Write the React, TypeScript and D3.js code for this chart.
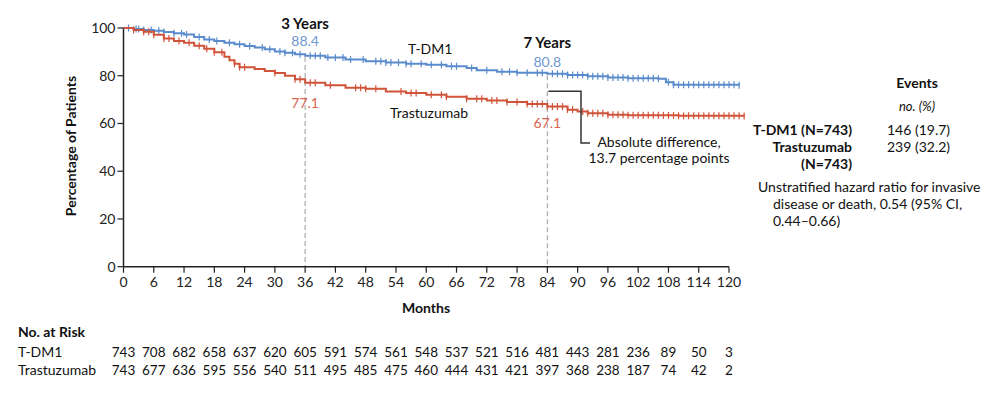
import * as d3 from 'd3';

// Kaplan-Meier steps (month, % free of invasive disease)
const tdm1Months = [0, 2, 4, 6, 8, 10, 12, 14, 16, 18, 20, 22, 24, 26, 28, 30, 32, 34, 36, 40, 44, 48, 52, 56, 60, 64, 68, 70, 74, 78, 84, 88, 92, 96, 100, 106, 107.5, 109, 122];
const tdm1Values = [100, 99.6, 99.2, 98.8, 98.3, 97.8, 97.3, 96.2, 95.2, 94.6, 93.8, 93.2, 92.5, 91.8, 91.1, 90.2, 89.6, 89.0, 88.4, 87.6, 86.8, 86.1, 85.5, 85.0, 84.6, 84.0, 83.2, 82.3, 81.7, 81.3, 80.8, 80.3, 79.8, 79.3, 79.0, 78.7, 77.3, 76.2, 76.0];
const trasMonths = [0, 2, 4, 6, 8, 10, 12, 14, 16, 18, 20, 21, 22, 23, 26, 28, 30, 32, 34, 36, 40, 44, 48, 52, 56, 60, 64, 68, 72, 76, 80, 84, 88, 90, 92, 96, 100, 110, 123];
const trasValues = [100, 99.2, 98.4, 97.2, 95.6, 94.6, 93.8, 92.6, 91.3, 89.8, 88.0, 86.5, 85.0, 83.6, 82.8, 82.0, 81.2, 80.0, 78.5, 77.1, 76.0, 75.0, 74.6, 73.4, 72.8, 72.0, 71.2, 70.4, 69.6, 69.0, 68.2, 67.1, 65.8, 65.0, 64.3, 63.7, 63.4, 63.2, 63.1];

// censored observations (months)
const tdm1Censor = [1, 2.5, 3, 4, 5.5, 7, 8, 10, 11.5, 12.5, 15, 17, 18.5, 21, 23, 25, 27.5, 29, 31, 32, 33.5, 35, 37, 38, 39, 40.5, 42, 43.5, 45, 47.5, 50, 51, 52, 53, 54.5, 56, 57, 59, 61, 63, 65, 66, 69, 72, 75, 76.5, 78, 80, 82, 83, 85, 86, 87, 88, 89, 90, 91, 92, 93, 94, 95, 96, 97, 98, 99, 100, 101, 102, 103, 104, 105, 106, 108, 109, 110, 111, 112, 113, 114, 115, 116, 117, 118, 119, 120, 121, 122];
const trasCensor = [2, 4, 5, 6, 8, 9, 11, 13, 15, 16.5, 18, 19.5, 22, 23, 24, 30, 34, 35, 37, 38, 41, 46, 47, 48, 50, 55, 57, 58, 61, 63, 64, 68, 70, 71, 73, 74, 76, 78, 80, 81, 82, 83, 84, 85, 86, 87, 88, 89, 91, 92, 93, 94, 95, 96, 97, 98, 99, 100, 101, 102, 103, 104, 105, 106, 107, 108, 109, 110, 111, 112, 113, 114, 115, 116, 117, 118, 119, 120, 121, 122, 123];

const xTicks = d3.range(0, 121, 6);
const yTicks = [0, 20, 40, 60, 80, 100];
const riskTdm1 = [743, 708, 682, 658, 637, 620, 605, 591, 574, 561, 548, 537, 521, 516, 481, 443, 281, 236, 89, 50, 3];
const riskTras = [743, 677, 636, 595, 556, 540, 511, 495, 485, 475, 460, 444, 431, 421, 397, 368, 238, 187, 74, 42, 2];

const BLUE = '#5a8bcc';
const RED = '#d1533a';
const FONT = 'Lato, "Open Sans", sans-serif';

export default function App() {
  const x = d3.scaleLinear().domain([0, 120]).range([123.5, 729]);
  const y = d3.scaleLinear().domain([0, 100]).range([266.7, 28]);

  const line = d3.line<[number, number]>()
    .x(d => x(d[0]))
    .y(d => y(d[1]))
    .curve(d3.curveStepAfter);

  const series = [
    { months: tdm1Months, values: tdm1Values, censor: tdm1Censor, color: BLUE },
    { months: trasMonths, values: trasValues, censor: trasCensor, color: RED },
  ];

  const valueAt = (months: number[], values: number[], t: number) => {
    const i = d3.bisectRight(months, t) - 1;
    return values[Math.max(0, i)];
  };

  return (
    <svg width={1000} height={398} style={{ position: 'absolute', left: 0, top: 0, fontFamily: FONT }}>
      <rect width={1000} height={398} fill="#fff" />

      {/* reference lines at 3 and 7 years */}
      <line x1={x(36)} x2={x(36)} y1={y(87.8)} y2={y(0)} stroke="#aaa" strokeWidth={1.2} strokeDasharray="5,3" />
      <line x1={x(84)} x2={x(84)} y1={y(80.2)} y2={y(0)} stroke="#aaa" strokeWidth={1.2} strokeDasharray="5,3" />

      {/* axes */}
      <line x1={x(0)} x2={x(0)} y1={y(100) - 1} y2={y(0)} stroke="#222" strokeWidth={1.5} />
      <line x1={x(0)} x2={x(120)} y1={y(0)} y2={y(0)} stroke="#222" strokeWidth={1.5} />
      {yTicks.map(t => (
        <g key={'y' + t}>
          <line x1={x(0) - 6} x2={x(0)} y1={y(t)} y2={y(t)} stroke="#222" strokeWidth={1.2} />
          <text x={x(0) - 8} y={y(t) + 5} textAnchor="end" fontSize={14} fill="#222">{t}</text>
        </g>
      ))}
      {xTicks.map(t => (
        <g key={'x' + t}>
          <line x1={x(t)} x2={x(t)} y1={y(0)} y2={y(0) + 6} stroke="#222" strokeWidth={1.2} />
          <text x={x(t)} y={287} textAnchor="middle" fontSize={14} fill="#222">{t}</text>
        </g>
      ))}
      <text x={426} y={313} textAnchor="middle" fontSize={14} fontWeight="bold" fill="#111">Months</text>
      <text transform="translate(76,146) rotate(-90)" textAnchor="middle" fontSize={14} fontWeight="bold" fill="#111">Percentage of Patients</text>

      {/* curves */}
      {series.map((s, k) => (
        <g key={'s' + k}>
          <path d={line(s.months.map((m, i) => [m, s.values[i]] as [number, number])) || ''} fill="none" stroke={s.color} strokeWidth={2} />
          {s.censor.map((c, i) => {
            const v = valueAt(s.months, s.values, c);
            return <line key={i} x1={x(c)} x2={x(c)} y1={y(v) - 3.5} y2={y(v) + 3.5} stroke={s.color} strokeWidth={1.2} />;
          })}
        </g>
      ))}

      {/* curve labels and landmark values */}
      <text x={408} y={54} fontSize={14} fill="#111">T-DM1</text>
      <text x={390} y={118} fontSize={14} fill="#111">Trastuzumab</text>
      <text x={x(36)} y={29} textAnchor="middle" fontSize={15} fontWeight="bold" fill="#111">3 Years</text>
      <text x={x(36)} y={46} textAnchor="middle" fontSize={14} fill="#6f97d2">88.4</text>
      <text x={x(36)} y={108} textAnchor="middle" fontSize={14} fill="#d8654f">77.1</text>
      <text x={x(84)} y={48} textAnchor="middle" fontSize={15} fontWeight="bold" fill="#111">7 Years</text>
      <text x={x(84)} y={67} textAnchor="middle" fontSize={14} fill="#6f97d2">80.8</text>
      <text x={x(84)} y={128} textAnchor="middle" fontSize={14} fill="#d8654f">67.1</text>

      {/* absolute difference bracket */}
      <path d={`M${x(84) + 1},${y(73.5)} H581 V143 H590`} fill="none" stroke="#333" strokeWidth={1.5} />
      <text x={659} y={147} textAnchor="middle" fontSize={14} fill="#111">Absolute difference,</text>
      <text x={659} y={163} textAnchor="middle" fontSize={14} fill="#111">13.7 percentage points</text>

      {/* events legend */}
      <text x={917} y={88} textAnchor="middle" fontSize={14} fontWeight="bold" fill="#111">Events</text>
      <text x={917} y={111} textAnchor="middle" fontSize={13} fontStyle="italic" fill="#111">no. (%)</text>
      <text x={852} y={135} textAnchor="end" fontSize={14} fontWeight="bold" fill="#111">T-DM1 (N=743)</text>
      <text x={852} y={152} textAnchor="end" fontSize={14} fontWeight="bold" fill="#111">Trastuzumab</text>
      <text x={852} y={169} textAnchor="end" fontSize={14} fontWeight="bold" fill="#111">(N=743)</text>
      <text x={887} y={135} fontSize={14} fill="#111">146 (19.7)</text>
      <text x={887} y={152} fontSize={14} fill="#111">239 (32.2)</text>
      <text x={758} y={192} fontSize={14} fill="#111">Unstratified hazard ratio for invasive</text>
      <text x={773} y={209} fontSize={14} fill="#111">disease or death, 0.54 (95% CI,</text>
      <text x={773} y={226} fontSize={14} fill="#111">0.44–0.66)</text>

      {/* number at risk */}
      <text x={18} y={337} fontSize={14} fontWeight="bold" fill="#111">No. at Risk</text>
      <text x={18} y={357} fontSize={14} fill="#111">T-DM1</text>
      <text x={18} y={375} fontSize={14} fill="#111">Trastuzumab</text>
      {xTicks.map((t, i) => (
        <g key={'r' + t}>
          <text x={x(t)} y={357} textAnchor="middle" fontSize={13.5} fill="#111">{riskTdm1[i]}</text>
          <text x={x(t)} y={375} textAnchor="middle" fontSize={13.5} fill="#111">{riskTras[i]}</text>
        </g>
      ))}
    </svg>
  );
}
